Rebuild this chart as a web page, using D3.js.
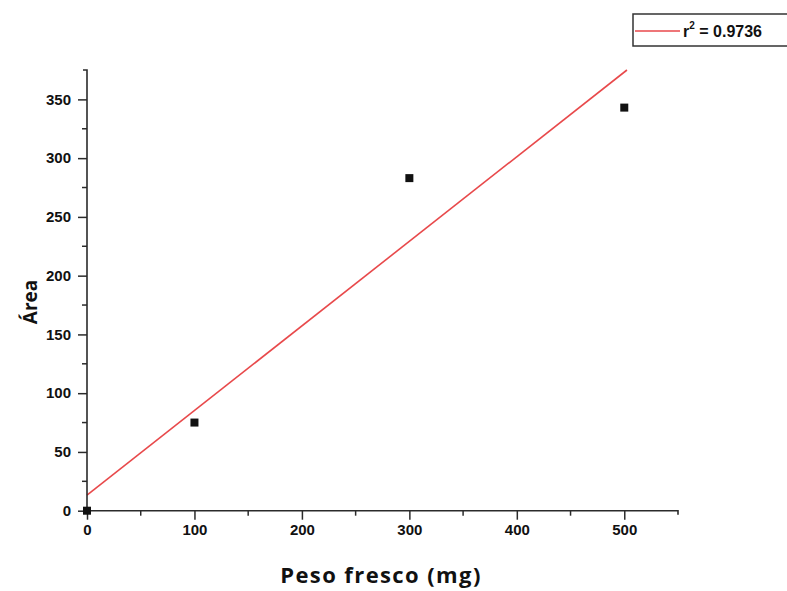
<!DOCTYPE html>
<html>
<head>
<meta charset="utf-8">
<script src="https://cdnjs.cloudflare.com/ajax/libs/d3/7.8.5/d3.min.js"></script>
<style>
  body { margin: 0; background: #fff; }
  svg { display: block; }
</style>
</head>
<body>
<svg id="chart" width="787" height="591"></svg>
<script>
// data
var pesoFresco = [0, 100, 300, 500];
var area = [0, 75, 283, 343];
var xTicks = [0, 100, 200, 300, 400, 500];
var yTicks = [0, 50, 100, 150, 200, 250, 300, 350];
var legendLabel = "r";
var legendValue = " = 0.9736";

var svg = d3.select("#chart");

var x = d3.scaleLinear().domain([0, 550]).range([87, 678]);
var y = d3.scaleLinear().domain([0, 375]).range([510.7, 70]);

var axisColor = "#2b2b2b";
var lineColor = "#e8494b";

// linear fit
var n = pesoFresco.length;
var mx = d3.mean(pesoFresco), my = d3.mean(area);
var sxy = 0, sxx = 0;
for (var i = 0; i < n; i++) {
  sxy += (pesoFresco[i] - mx) * (area[i] - my);
  sxx += (pesoFresco[i] - mx) * (pesoFresco[i] - mx);
}
var slope = sxy / sxx;
var intercept = my - slope * mx;
var xEnd = (375 - intercept) / slope; // fit line stops at the top of the frame

svg.append("line")
  .attr("x1", x(0)).attr("y1", y(intercept))
  .attr("x2", x(xEnd)).attr("y2", y(375))
  .attr("stroke", lineColor)
  .attr("stroke-width", 1.6);

// axes
var yAxis = d3.axisLeft(y).tickValues(yTicks).tickSize(9).tickPadding(7);
var gy = svg.append("g").attr("transform", "translate(" + x(0) + ",0)").call(yAxis);
var xAxis = d3.axisBottom(x).tickValues(xTicks).tickSize(9).tickPadding(5);
var gx = svg.append("g").attr("transform", "translate(0," + y(0) + ")").call(xAxis);

[gx, gy].forEach(function (g) {
  g.select(".domain").remove();
  g.selectAll(".tick line").attr("stroke", axisColor).attr("stroke-width", 1.5);
  g.selectAll(".tick text")
    .attr("fill", "#111")
    .style("font-family", "'Liberation Sans', Arial, sans-serif")
    .style("font-weight", "bold")
    .style("font-size", "15px");
});

// minor ticks
var yMinor = d3.range(25, 375, 50);
svg.selectAll(".yminor").data(yMinor).enter().append("line")
  .attr("x1", x(0) - 5).attr("x2", x(0))
  .attr("y1", function (d) { return y(d); })
  .attr("y2", function (d) { return y(d); })
  .attr("stroke", axisColor).attr("stroke-width", 1.5);
var xMinor = d3.range(50, 550, 100);
svg.selectAll(".xminor").data(xMinor).enter().append("line")
  .attr("x1", function (d) { return x(d); })
  .attr("x2", function (d) { return x(d); })
  .attr("y1", y(0)).attr("y2", y(0) + 5)
  .attr("stroke", axisColor).attr("stroke-width", 1.5);

// axis lines with the small end caps
svg.append("path")
  .attr("d", "M" + (x(0) - 4) + "," + y(375) + "H" + x(0) + "V" + y(0) + "H" + x(550) + "V" + (y(0) + 4))
  .attr("fill", "none")
  .attr("stroke", axisColor)
  .attr("stroke-width", 1.6);

// points
svg.selectAll(".pt").data(pesoFresco).enter().append("rect")
  .attr("x", function (d) { return x(d) - 4; })
  .attr("y", function (d, i) { return y(area[i]) - 4; })
  .attr("width", 8).attr("height", 8)
  .attr("fill", "#111");

// axis titles
svg.append("text")
  .attr("x", 381).attr("y", 583)
  .attr("text-anchor", "middle")
  .style("font-family", "'Open Sans', sans-serif")
  .style("font-weight", "bold")
  .style("font-size", "22px")
  .style("letter-spacing", "1.4px")
  .attr("fill", "#111")
  .text("Peso fresco (mg)");

svg.append("text")
  .attr("transform", "translate(37,302) rotate(-90)")
  .attr("text-anchor", "middle")
  .style("font-family", "'Open Sans', sans-serif")
  .style("font-weight", "bold")
  .style("font-size", "19px")
  .attr("fill", "#111")
  .text("Área");

// legend
var lg = svg.append("g");
lg.append("rect")
  .attr("x", 633).attr("y", 14).attr("width", 160).attr("height", 32)
  .attr("fill", "#fff").attr("stroke", "#333").attr("stroke-width", 1.5);
lg.append("line")
  .attr("x1", 635).attr("x2", 680).attr("y1", 31).attr("y2", 31)
  .attr("stroke", lineColor).attr("stroke-width", 1.6);
var lt = lg.append("text")
  .attr("x", 683).attr("y", 37)
  .style("font-family", "'Liberation Sans', Arial, sans-serif")
  .style("font-weight", "bold")
  .style("font-size", "16px")
  .attr("fill", "#111");
lt.append("tspan").text(legendLabel);
lt.append("tspan").attr("dy", -8).style("font-size", "10px").text("2");
lt.append("tspan").attr("dy", 8).text(legendValue);
</script>
</body>
</html>
